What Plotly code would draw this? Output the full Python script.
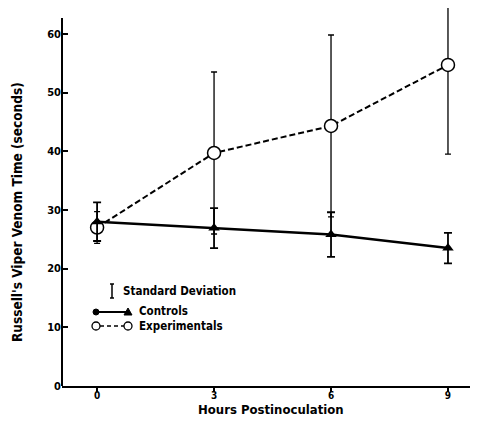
import plotly.graph_objects as go

hours = [0, 3, 6, 9]
controls_mean = [28.0, 26.9, 25.8, 23.5]
controls_sd = [3.3, 3.4, 3.8, 2.6]
exp_mean = [27.0, 39.7, 44.3, 54.7]
exp_sd_up = [2.7, 13.8, 15.5, 10.0]
exp_sd_down = [2.7, 13.8, 15.5, 15.2]
x_ticks = [0, 3, 6, 9]
y_ticks = [0, 10, 20, 30, 40, 50, 60]

FONT = "DejaVu Sans Condensed"
OFF = 8  # default page body margin
W, H = 470, 425
L, R, T, B = 54, 0, 0, 47
PW, PH = W - L - R, H - T - B


def px(x):  # page pixel -> paper x
    return (x - OFF - L) / PW


def py(y):  # page pixel -> paper y
    return (H - B - (y - OFF)) / PH


fig = go.Figure()
fig.add_trace(go.Scatter(
    x=hours, y=exp_mean, mode="lines+markers", name="Experimentals",
    line=dict(color="black", width=2, dash="6px,3px"),
    marker=dict(symbol="circle", size=13, color="white", line=dict(color="black", width=1.5)),
    error_y=dict(type="data", symmetric=False, array=exp_sd_up, arrayminus=exp_sd_down,
                 color="black", thickness=1.3, width=3),
    showlegend=False,
))
fig.add_trace(go.Scatter(
    x=hours, y=controls_mean, mode="lines+markers", name="Controls",
    line=dict(color="black", width=2.5),
    marker=dict(symbol="triangle-up", size=10, color="black"),
    error_y=dict(type="data", array=controls_sd, color="black", thickness=1.8, width=4),
    showlegend=False,
))

shapes = []
# y axis line
shapes.append(dict(type="line", xref="paper", yref="y", x0=0, x1=0, y0=0, y1=62.7,
                   line=dict(color="black", width=2)))
# legend: standard deviation glyph
shapes += [
    dict(type="line", xref="paper", yref="paper", x0=px(112), x1=px(112), y0=py(298), y1=py(284), line=dict(color="black", width=1.5)),
    dict(type="line", xref="paper", yref="paper", x0=px(110), x1=px(114), y0=py(284), y1=py(284), line=dict(color="black", width=1.5)),
    dict(type="line", xref="paper", yref="paper", x0=px(110), x1=px(114), y0=py(298), y1=py(298), line=dict(color="black", width=1.5)),
    # controls sample
    dict(type="line", xref="paper", yref="paper", x0=px(95), x1=px(128), y0=py(312), y1=py(312), line=dict(color="black", width=2)),
    dict(type="path", xref="paper", yref="paper",
         path=f"M {px(124)} {py(315)} L {px(132)} {py(315)} L {px(128)} {py(308)} Z",
         fillcolor="black", line=dict(color="black", width=1)),
    dict(type="circle", xref="paper", yref="paper", x0=px(93), x1=px(99), y0=py(309), y1=py(315),
         fillcolor="black", line=dict(color="black", width=1)),
    # experimentals sample
    dict(type="line", xref="paper", yref="paper", x0=px(100), x1=px(124), y0=py(326), y1=py(326), line=dict(color="black", width=1.5, dash="4px,3px")),
    dict(type="circle", xref="paper", yref="paper", x0=px(92), x1=px(100), y0=py(322), y1=py(330),
         fillcolor="white", line=dict(color="black", width=1.3)),
    dict(type="circle", xref="paper", yref="paper", x0=px(124), x1=px(132), y0=py(322), y1=py(330),
         fillcolor="white", line=dict(color="black", width=1.3)),
]

LEG = 11.5
annotations = [
    dict(text="<b>Standard Deviation</b>", xref="paper", yref="paper", x=px(121), y=py(291),
         xanchor="left", yanchor="middle", showarrow=False, font=dict(family=FONT, size=LEG, color="black")),
    dict(text="<b>Controls</b>", xref="paper", yref="paper", x=px(137), y=py(311),
         xanchor="left", yanchor="middle", showarrow=False, font=dict(family=FONT, size=LEG, color="black")),
    dict(text="<b>Experimentals</b>", xref="paper", yref="paper", x=px(137), y=py(326),
         xanchor="left", yanchor="middle", showarrow=False, font=dict(family=FONT, size=LEG, color="black")),
    # axis titles
    dict(text="<b>Hours Postinoculation</b>", xref="paper", yref="paper", x=px(271), y=py(409),
         xanchor="center", yanchor="middle", showarrow=False, font=dict(family=FONT, size=13, color="black")),
    dict(text="<b>Russell's Viper Venom Time (seconds)</b>", xref="paper", yref="paper", x=px(17), y=py(212),
         xanchor="center", yanchor="middle", textangle=-90, showarrow=False,
         font=dict(family=FONT, size=13.5, color="black")),
]

fig.update_layout(
    width=W, height=H,
    margin=dict(l=L, r=R, t=T, b=B),
    paper_bgcolor="white", plot_bgcolor="white",
    font=dict(family=FONT, color="black", size=10),
    shapes=shapes, annotations=annotations,
    xaxis=dict(range=[-0.9, 9.77], tickvals=x_ticks, ticktext=[f"<b>{v}</b>" for v in x_ticks],
               ticks="outside", ticklen=4, tickwidth=1.5, tickcolor="black", ticklabelstandoff=-5,
               showline=True, linecolor="black", linewidth=2, showgrid=False, zeroline=False,
               automargin=False, tickfont=dict(family=FONT, size=10)),
    yaxis=dict(range=[0, 64.4], tickvals=y_ticks, ticktext=[f"<b>{v}</b>" for v in y_ticks],
               ticks="inside", ticklen=6, tickwidth=1.5, tickcolor="black",
               showline=False, showgrid=False, zeroline=False,
               automargin=False, tickfont=dict(family=FONT, size=11)),
)

fig.write_html("out.html")
